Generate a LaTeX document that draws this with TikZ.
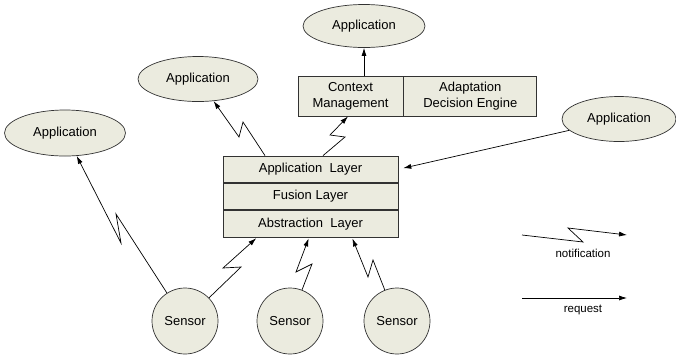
\documentclass[tikz,border=0pt]{standalone}
\usepackage{fontspec}
\setmainfont{Liberation Sans}
\usetikzlibrary{shapes.geometric}
\usetikzlibrary{arrows.meta}
\definecolor{boxfill}{RGB}{235,235,223}
\definecolor{edgegray}{RGB}{50,50,50}

\begin{document}
\begin{tikzpicture}[x=1pt,y=-1pt,
            app node/.style={ellipse,draw=edgegray,fill=boxfill,line width=0.7pt,inner sep=0pt,font=\fontsize{13}{16}\selectfont},
            sensor node/.style={circle,draw=edgegray,fill=boxfill,line width=0.7pt,inner sep=0pt,minimum size=66pt,font=\fontsize{13}{16}\selectfont},
            layer node/.style={rectangle,draw=edgegray,fill=boxfill,line width=0.8pt,inner sep=0pt,minimum width=175pt,minimum height=26.5pt,font=\fontsize{13}{16}\selectfont},
            box node/.style={rectangle,draw=edgegray,fill=boxfill,line width=0.8pt,inner sep=0pt,minimum height=40pt,align=center,font=\fontsize{13}{16}\selectfont},
            link/.style={draw=black,line width=0.7pt,-{Latex[length=8pt,width=5pt]}},
            note/.style={font=\fontsize{11.5}{14}\selectfont},
            ]
            \useasboundingbox (0,0) rectangle (676,357);

            % applications
            \node[app node, minimum width=122pt, minimum height=43pt] (app1) at (364,26) {Application};
            \node[app node, minimum width=120pt, minimum height=45pt] (app2) at (198,79) {Application};
            \node[app node, minimum width=121pt, minimum height=46pt] (app3) at (65,133) {Application};
            \node[app node, minimum width=114pt, minimum height=45pt] (app4) at (619,119) {Application};

            % context management and adaptation
            \node[box node, minimum width=105pt] (ctx) at (350.5,96) {Context\\Management};
            \node[box node, minimum width=133pt, anchor=west] (ade) at (ctx.east) {Adaptation\\Decision Engine};

            % layers
            \node[layer node] (al) at (310.5,169.25) {Application~~Layer};
            \node[layer node, anchor=north] (fl) at (al.south) {Fusion Layer};
            \node[layer node, anchor=north] (abl) at (fl.south) {Abstraction~~Layer};

            % sensors
            \node[sensor node] (s1) at (185,321) {Sensor};
            \node[sensor node] (s2) at (290,321) {Sensor};
            \node[sensor node] (s3) at (397,321) {Sensor};

            % requests
            \draw[link] (ctx.north -| app1) -- (app1);
            \draw[link, shorten >=5pt] (app4) -- (al.east);

            % notifications
            \draw[link] (s1) -- (116,214) -- (121,243) -- (app3);
            \draw[link] ([xshift=-45.5pt]al.north) -- (243,122) -- (239,137) -- (app2);
            \draw[link] ([xshift=12.5pt]al.north) -- (345,137) -- (330,135) -- ([xshift=-2.5pt]ctx.south);
            \draw[link, shorten >=1pt] (s1) -- (241,267) -- (223,268) -- ([xshift=-53.5pt]abl.south);
            \draw[link, shorten >=1pt] (s2) -- (312,264) -- (296,272) -- ([xshift=-1.5pt]abl.south);
            \draw[link, shorten >=1pt] (s3) -- (373,260) -- (368,277) -- ([xshift=41.5pt]abl.south);

            % legend
            \coordinate (n1) at (522,235);
            \coordinate (n2) at (627,235);
            \coordinate (r1) at (522,298);
            \coordinate (r2) at (627,298);
            \draw[link] (n1) -- (583,242) -- (568,228) -- (n2);
            \draw[link] (r1) -- (r2);
            \node[note] (ntext) at (583,253) {notification};
            \node[note] (rtext) at (583,310) {request};
        \end{tikzpicture}
\end{document}
